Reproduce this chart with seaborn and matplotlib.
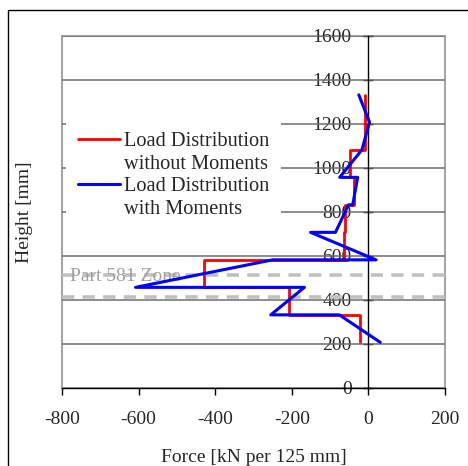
import matplotlib
matplotlib.use("Agg")
import matplotlib.pyplot as plt
from matplotlib.lines import Line2D
from matplotlib.patches import Rectangle
import numpy as np
import pandas as pd
import seaborn as sns

# Section heights (mm) bounding each 125 mm slice
slice_edges = [207.5, 332.5, 457.5, 582.5, 707.5, 832.5, 957.5, 1082.5, 1207.5, 1332.5]
# Force per slice without moments (kN per 125 mm)
force_no_moment = [-22, -208, -428, -64, -61, -38, -48, -8, -8]

# Load distribution with moments: force / height pairs along the path
force_moment = [31, -76, -255, -167, -608, -250, 20, -151, -86, -52, -41, -28, -75, -17, 3, -25]
height_moment = [207.5, 332.5, 332.5, 457.5, 457.5, 582.5, 582.5, 707.5, 707.5,
                 832.5, 832.5, 957.5, 957.5, 1082.5, 1207.5, 1332.5]

# Limits of the Part 581 zone (mm)
zone_limits = [512, 413]
zone_label = "Part 581 Zone"

x_ticks = [-800, -600, -400, -200, 0, 200]
y_ticks = [0, 200, 400, 600, 800, 1000, 1200, 1400, 1600]

legend_labels = ["Load Distribution", "without Moments", "Load Distribution", "with Moments"]

sns.set_theme(style="white")
plt.rcParams["font.family"] = ["Liberation Serif", "DejaVu Serif"]
plt.rcParams["axes.unicode_minus"] = False

# Step profile for the load without moments
step_x, step_y = [], []
for i, v in enumerate(force_no_moment):
    step_x += [v, v]
    step_y += [slice_edges[i], slice_edges[i + 1]]
df_step = pd.DataFrame({"force": step_x, "height": step_y})
df_mom = pd.DataFrame({"force": force_moment, "height": height_moment})

W, H = 468, 466
fig = plt.figure(figsize=(W / 100, H / 100), dpi=100)
ax = fig.add_axes([62 / W, (H - 388) / H, 383 / W, 352 / H])

ax.set_xlim(-800, 200)
ax.set_ylim(0, 1600)

# horizontal gridlines
for yv in y_ticks[1:]:
    ax.axhline(yv, color="#6e6e6e", lw=1.1, zorder=1)

# zone boundaries
for zl in zone_limits:
    ax.axhline(zl, color="#c0c0c0", lw=2.6, ls=(0, (3.4, 2.3)), zorder=2)
ax.text(-780, 505, zone_label, color="#a0a0a0", fontsize=14, ha="left",
        va="center", zorder=2)

sns.lineplot(data=df_step, x="force", y="height", sort=False, estimator=None,
             color="#ff0000", lw=2.0, ax=ax, zorder=3)
sns.lineplot(data=df_mom, x="force", y="height", sort=False, estimator=None,
             color="#0000ff", lw=2.2, ax=ax, zorder=4)

# spines: axes through the origin, grey box around the plot area
for s in ["top", "right"]:
    ax.spines[s].set_visible(False)
ax.spines["left"].set_position(("data", 0))
ax.spines["left"].set_color("black")
ax.spines["left"].set_linewidth(1.0)
ax.spines["bottom"].set_color("black")
ax.spines["bottom"].set_linewidth(1.0)
ax.spines["left"].set_zorder(2.5)
ax.add_patch(Rectangle((0, 0), 1, 1, transform=ax.transAxes, fill=False,
                       ec="#a6a6a6", lw=1.5, zorder=0.5, clip_on=False))

ax.set_xticks(x_ticks)
ax.set_yticks(y_ticks)
ax.set_xticklabels([str(v) for v in x_ticks])
ax.set_yticklabels([str(v) for v in y_ticks])
ax.tick_params(axis="x", direction="out", length=5, width=1, color="black",
               pad=11.5, labelsize=14, bottom=True)
ax.tick_params(axis="y", direction="inout", length=7, width=1, color="black",
               pad=8.5, labelsize=14, left=True)
for lab in ax.get_yticklabels():
    lab.set_zorder(3)

ax.set_xlabel("Force [kN per 125 mm]", fontsize=14, labelpad=15)
ax.set_ylabel("Height [mm]", fontsize=14)
ax.yaxis.set_label_coords(-0.077, 0.5)

handles = [Line2D([], [], color="#ff0000", lw=2.0),
           Line2D([], [], color="none"),
           Line2D([], [], color="#0000ff", lw=2.2),
           Line2D([], [], color="none")]
leg = ax.legend(handles, legend_labels, loc="upper left",
                bbox_to_anchor=(0.0104, 0.761), borderaxespad=0,
                fontsize=14.7, frameon=True, facecolor="white", edgecolor="none",
                framealpha=1, fancybox=False, handlelength=2.06,
                handletextpad=0.2, borderpad=0.57, labelspacing=0.16)
leg.set_zorder(5)

# outer frame of the panel
fig.add_artist(Rectangle((8 / W, -0.5), 2, 1.5 - 10 / H, transform=fig.transFigure,
                         fill=False, ec="black", lw=1.0))

fig.savefig("out.png", dpi=100)
